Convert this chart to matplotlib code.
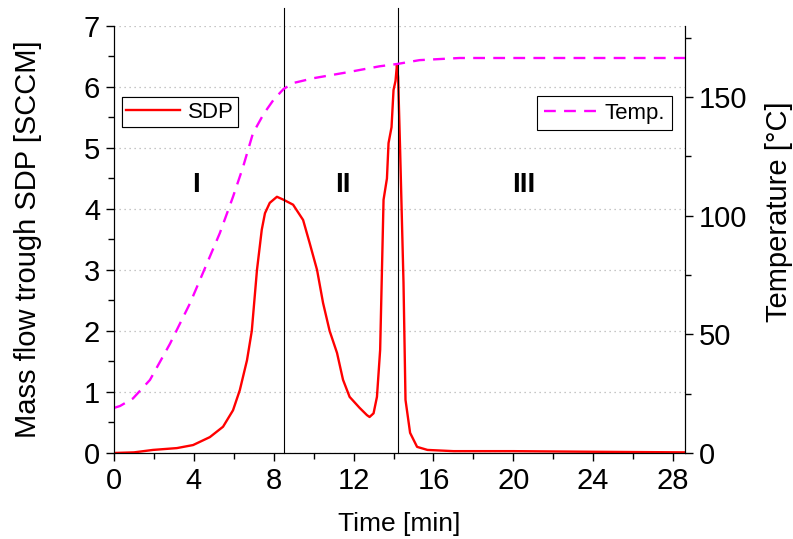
import numpy as np
import matplotlib.pyplot as plt
from matplotlib.ticker import MultipleLocator

plt.rcParams['font.family'] = ['Liberation Sans', 'DejaVu Sans']

# SDP mass flow (left axis)
sdp_t = [0, 1.0, 1.95, 3.15, 3.96, 4.8, 5.46, 5.96, 6.3, 6.66, 6.9, 7.16, 7.4, 7.56, 7.8,
         8.16, 8.5, 8.97, 9.47, 9.8, 10.17, 10.47, 10.8, 11.17, 11.47, 11.8, 12.3, 12.67,
         12.8, 13.0, 13.17, 13.33, 13.5, 13.67, 13.75, 13.9, 14.0, 14.1, 14.17, 14.23,
         14.33, 14.5, 14.6, 14.83, 15.18, 15.7, 17, 20, 24, 28.6]
sdp_v = [0, 0.01, 0.05, 0.08, 0.13, 0.26, 0.43, 0.7, 1.03, 1.52, 2.0, 3.0, 3.66, 3.93, 4.1,
         4.2, 4.15, 4.07, 3.82, 3.44, 3.0, 2.46, 2.0, 1.64, 1.2, 0.92, 0.74, 0.62,
         0.59, 0.65, 0.92, 1.69, 4.15, 4.5, 5.08, 5.34, 5.95, 6.1, 6.36, 6.16,
         4.97, 2.79, 0.87, 0.33, 0.1, 0.05, 0.03, 0.03, 0.02, 0.01]

# Temperature (right axis)
temp_t = [0, 0.3, 0.95, 1.8, 2.8, 3.8, 4.66, 5.3, 5.96, 6.46, 6.96, 7.5, 8.0, 8.5, 9.0,
          10.0, 11.7, 13.3, 14.2, 15.3, 17.3, 20, 24, 28.6]
temp_v = [19, 19.8, 23, 30.8, 46, 63, 80, 92.7, 108, 120.5, 134.8, 143, 149, 153.5, 156,
          158, 160.5, 163, 164, 165.6, 166.5, 166.5, 166.5, 166.5]

# Stage borders and labels
borders = [8.52, 14.23]
stage_names = ['I', 'II', 'III']
stage_x = [4.1, 11.47, 20.5]
stage_y = 4.4

fig = plt.figure(figsize=(7.93, 5.39), dpi=100)
ax1 = fig.add_axes([0.1438, 0.1596, 0.72, 0.7922])
ax2 = ax1.twinx()

l1, = ax1.plot(sdp_t, sdp_v, color='#ff0000', lw=1.7, label='SDP')
l2, = ax2.plot(temp_t, temp_v, color='#ff00ff', lw=1.7, ls=(0, (5, 3.5)), label='Temp.')

for b in borders:
    ax1.axvline(b, ymin=0, ymax=1.042, color='black', lw=0.8, clip_on=False)

for name, x in zip(stage_names, stage_x):
    ax1.text(x, stage_y, name, fontsize=20, fontweight='bold', ha='center', va='center')

ax1.set_xlim(0, 28.6)
ax1.set_ylim(0, 7)
ax2.set_ylim(0, 180)

ax1.xaxis.set_major_locator(MultipleLocator(4))
ax1.xaxis.set_minor_locator(MultipleLocator(2))
ax1.yaxis.set_major_locator(MultipleLocator(1))
ax1.yaxis.set_minor_locator(MultipleLocator(0.5))
ax2.yaxis.set_major_locator(MultipleLocator(50))
ax2.yaxis.set_minor_locator(MultipleLocator(25))

ax1.grid(axis='y', which='major', color='#b4b4b4', ls=(0, (1, 3)), lw=0.9)
for ax in (ax1, ax2):
    ax.spines['top'].set_visible(False)
    ax.tick_params(which='major', length=6, width=1, labelsize=21, pad=4)
    ax.tick_params(which='minor', length=4, width=1)

ax1.set_xlabel('Time [min]', fontsize=19, labelpad=12)
ax1.set_ylabel('Mass flow trough SDP [SCCM]', fontsize=21, labelpad=30)
ax2.set_ylabel('Temperature [°C]', fontsize=21)
ax2.yaxis.set_label_coords(1.14, 0.565)

leg1 = ax1.legend(handles=[l1], loc='upper left', bbox_to_anchor=(0.014, 0.833),
                  fontsize=16, frameon=True, fancybox=False, framealpha=1,
                  edgecolor='black', borderaxespad=0, handlelength=2.4,
                  handletextpad=0.35, borderpad=0.2)
leg1.get_frame().set_linewidth(0.8)
ax1.add_artist(leg1)
leg2 = ax2.legend(handles=[l2], loc='upper right', bbox_to_anchor=(0.977, 0.836),
                  fontsize=16, frameon=True, fancybox=False, framealpha=1,
                  edgecolor='black', borderaxespad=0, handlelength=2.4,
                  handletextpad=0.35, borderpad=0.3)
leg2.get_frame().set_linewidth(0.8)

fig.savefig('out.png', dpi=100)
